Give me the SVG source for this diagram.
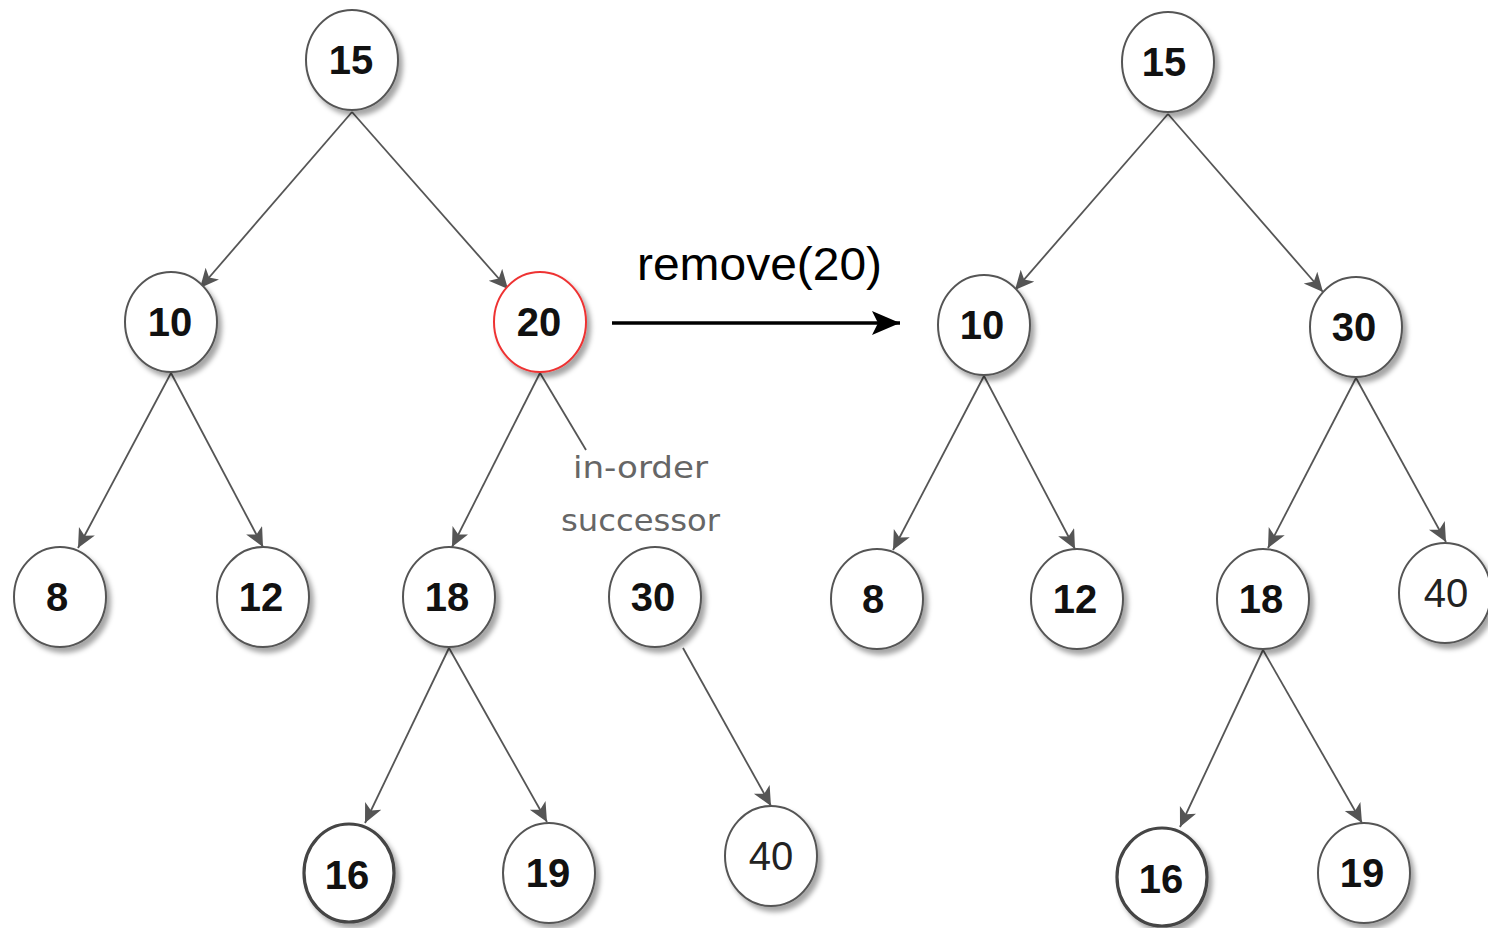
<svg xmlns="http://www.w3.org/2000/svg" width="1488" height="928" viewBox="0 0 1488 928">
  <style>
    .node ellipse { fill: #ffffff; stroke: #555555; stroke-width: 2; filter: url(#shadow); }
    .node.removed ellipse { stroke: #ee3333; }
    .node.leaf ellipse { stroke: #444444; stroke-width: 3.2; }
    .node text { font-family: "Liberation Sans", Arial, sans-serif; font-size: 40px; font-weight: bold; fill: #111111; text-anchor: middle; }
    .node text.plain { font-weight: normal; fill: #222222; }
    .edge { stroke: #555555; stroke-width: 1.8; fill: none; marker-end: url(#head); }
    .edge.plain { marker-end: none; }
    .note { font-family: "DejaVu Sans", sans-serif; font-size: 31px; fill: #666666; }
    .op { font-family: "Liberation Sans", Arial, sans-serif; font-size: 46px; fill: #000000; }
  </style>
  <defs>
    <filter id="shadow" x="-30%" y="-30%" width="170%" height="170%">
      <feDropShadow dx="4" dy="5" stdDeviation="2.5" flood-color="#000000" flood-opacity="0.35"/>
    </filter>
    <marker id="head" markerUnits="userSpaceOnUse" markerWidth="22" markerHeight="20" refX="19" refY="9" orient="auto">
      <path d="M0,0 L19,9 L0,18 L5,9 z" fill="#555555"/>
    </marker>
    <marker id="bighead" markerUnits="userSpaceOnUse" markerWidth="30" markerHeight="26" refX="28" refY="12" orient="auto">
      <path d="M0,0 L28,12 L0,24 L6,12 z" fill="#000000"/>
    </marker>
  </defs>

  <rect width="1488" height="928" fill="#ffffff"/>

  <!-- connectors -->
  <g id="connectors">
    <!-- tree before removal -->
    <line class="edge" x1="352" y1="112" x2="200" y2="288"/>
    <line class="edge" x1="352" y1="112" x2="508" y2="289"/>
    <line class="edge" x1="171" y1="373" x2="78" y2="548"/>
    <line class="edge" x1="171" y1="373" x2="263" y2="547"/>
    <line class="edge" x1="540" y1="373" x2="452" y2="547"/>
    <line class="edge plain" x1="540" y1="373" x2="586" y2="450"/>
    <line class="edge" x1="449" y1="648" x2="365" y2="823"/>
    <line class="edge" x1="449" y1="648" x2="547" y2="822"/>
    <line class="edge" x1="683" y1="648" x2="771" y2="806"/>
    <!-- tree after removal -->
    <line class="edge" x1="1168" y1="114" x2="1015" y2="290"/>
    <line class="edge" x1="1168" y1="114" x2="1323" y2="292"/>
    <line class="edge" x1="984" y1="376" x2="893" y2="550"/>
    <line class="edge" x1="984" y1="376" x2="1075" y2="549"/>
    <line class="edge" x1="1356" y1="378" x2="1268" y2="548"/>
    <line class="edge" x1="1356" y1="378" x2="1446" y2="542"/>
    <line class="edge" x1="1263" y1="650" x2="1180" y2="827"/>
    <line class="edge" x1="1263" y1="650" x2="1362" y2="823"/>
    <!-- operation arrow -->
    <line x1="612" y1="323" x2="900" y2="323" stroke="#000000" stroke-width="3.5" marker-end="url(#bighead)"/>
  </g>

  <!-- labels -->
  <g id="labels">
    <text class="op" x="637" y="280" textLength="245" lengthAdjust="spacingAndGlyphs">remove(20)</text>
    <text class="note" x="573" y="478" textLength="135" lengthAdjust="spacingAndGlyphs">in-order</text>
    <text class="note" x="561" y="531" textLength="159" lengthAdjust="spacingAndGlyphs">successor</text>
  </g>

  <!-- tree before removal -->
  <g id="a15" class="node"><ellipse cx="352" cy="60" rx="46" ry="50"/><text x="351" y="74">15</text></g>
  <g id="a10" class="node"><ellipse cx="171" cy="322" rx="46" ry="50"/><text x="170" y="336">10</text></g>
  <g id="a20" class="node removed"><ellipse cx="540" cy="322" rx="46" ry="50"/><text x="539" y="336">20</text></g>
  <g id="a8" class="node"><ellipse cx="60" cy="597" rx="46" ry="50"/><text x="57" y="611">8</text></g>
  <g id="a12" class="node"><ellipse cx="263" cy="597" rx="46" ry="50"/><text x="261" y="611">12</text></g>
  <g id="a18" class="node"><ellipse cx="449" cy="597" rx="46" ry="50"/><text x="447" y="611">18</text></g>
  <g id="a30" class="node"><ellipse cx="655" cy="597" rx="46" ry="50"/><text x="653" y="611">30</text></g>
  <g id="a16" class="node leaf"><ellipse cx="349" cy="873" rx="45" ry="49"/><text x="347" y="889">16</text></g>
  <g id="a19" class="node"><ellipse cx="549" cy="873" rx="46" ry="50"/><text x="548" y="887">19</text></g>
  <g id="a40" class="node"><ellipse cx="771" cy="856" rx="46" ry="50"/><text class="plain" x="771" y="870">40</text></g>

  <!-- tree after removal -->
  <g id="b15" class="node"><ellipse cx="1168" cy="62" rx="46" ry="50"/><text x="1164" y="76">15</text></g>
  <g id="b10" class="node"><ellipse cx="984" cy="325" rx="46" ry="50"/><text x="982" y="339">10</text></g>
  <g id="b30" class="node"><ellipse cx="1356" cy="327" rx="46" ry="50"/><text x="1354" y="341">30</text></g>
  <g id="b8" class="node"><ellipse cx="877" cy="599" rx="46" ry="50"/><text x="873" y="613">8</text></g>
  <g id="b12" class="node"><ellipse cx="1077" cy="599" rx="46" ry="50"/><text x="1075" y="613">12</text></g>
  <g id="b18" class="node"><ellipse cx="1263" cy="599" rx="46" ry="50"/><text x="1261" y="613">18</text></g>
  <g id="b40" class="node"><ellipse cx="1445" cy="593" rx="46" ry="50"/><text class="plain" x="1446" y="607">40</text></g>
  <g id="b16" class="node leaf"><ellipse cx="1162" cy="877" rx="45" ry="49"/><text x="1161" y="893">16</text></g>
  <g id="b19" class="node"><ellipse cx="1364" cy="873" rx="46" ry="50"/><text x="1362" y="887">19</text></g>
</svg>
